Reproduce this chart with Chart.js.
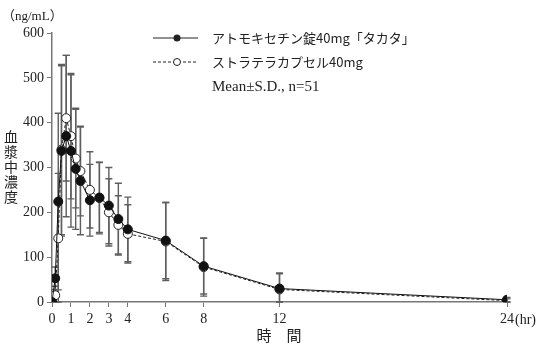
<!DOCTYPE html>
<html>
<head>
<meta charset="utf-8">
<script src="https://cdn.jsdelivr.net/npm/chart.js@4"></script>
<style>
  html, body { margin: 0; padding: 0; background: #fff; }
  #wrap { position: relative; width: 542px; height: 346px; }
</style>
</head>
<body>
<div id="wrap"><canvas id="pkChart" width="542" height="346"></canvas></div>
<script>
// --- data ---
const times = [0, 0.17, 0.33, 0.5, 0.75, 1, 1.25, 1.5, 2, 2.5, 3, 3.5, 4, 6, 8, 12, 24];
const takataMean = [0, 53, 224, 337, 370, 337, 297, 270, 227, 233, 215, 185, 162, 137, 80, 30, 5];
const takataSD   = [0, 25, 197, 190, 180, 170, 135, 120, 80, 78, 85, 80, 72, 85, 62, 35, 5];
const stratteraMean = [0, 15, 142, 340, 410, 370, 320, 292, 250, 232, 200, 172, 152, 135, 78, 28, 3];
const stratteraSD   = [0, 20, 145, 190, 140, 140, 110, 100, 85, 80, 75, 65, 65, 87, 65, 35, 4];
const xTicks = [0, 1, 2, 3, 4, 6, 8, 12, 24];
const yTicks = [0, 100, 200, 300, 400, 500, 600];
const legendLabels = ['アトモキセチン錠40mg「タカタ」', 'ストラテラカプセル40mg'];
const legendNote = 'Mean\u00B1S.D., n=51';

const SERIF = '"Liberation Serif", "Noto Sans CJK JP", serif';
const JP = '"Noto Sans CJK JP", "Liberation Serif", sans-serif';

function toPoints(xs, ys) {
    return xs.map((x, i) => ({ x: x, y: ys[i] }));
}

// error bars through the chart scales, drawn behind the markers
const errorBars = {
    id: 'errorBars',
    beforeDatasetsDraw(chart) {
        const { ctx, scales: { x, y } } = chart;
        const sets = [[takataMean, takataSD], [stratteraMean, stratteraSD]];
        ctx.save();
        ctx.strokeStyle = '#5e5e5e';
        ctx.lineWidth = 1.4;
        sets.forEach(([mean, sd]) => {
            times.forEach((t, i) => {
                if (!sd[i]) return;
                const px = x.getPixelForValue(t);
                const top = y.getPixelForValue(mean[i] + sd[i]);
                const bot = y.getPixelForValue(Math.max(mean[i] - sd[i], 0));
                ctx.beginPath();
                ctx.moveTo(px, top); ctx.lineTo(px, bot);
                ctx.moveTo(px - 3.5, top); ctx.lineTo(px + 3.5, top);
                ctx.moveTo(px - 3.5, bot); ctx.lineTo(px + 3.5, bot);
                ctx.stroke();
            });
        });
        ctx.restore();
    }
};

// legend, units and axis titles
const annotations = {
    id: 'annotations',
    afterDraw(chart) {
        const { ctx, scales: { x } } = chart;
        ctx.save();
        ctx.fillStyle = '#222';
        ctx.textBaseline = 'middle';

        // legend symbols
        ctx.strokeStyle = '#222';
        ctx.lineWidth = 1;
        ctx.beginPath(); ctx.moveTo(153, 38); ctx.lineTo(198, 38); ctx.stroke();
        ctx.beginPath(); ctx.arc(177, 38, 3.5, 0, Math.PI * 2); ctx.fill();
        ctx.setLineDash([3, 2]);
        ctx.beginPath(); ctx.moveTo(153, 62); ctx.lineTo(198, 62); ctx.stroke();
        ctx.setLineDash([]);
        ctx.beginPath(); ctx.arc(177, 62, 3.5, 0, Math.PI * 2);
        ctx.fillStyle = '#fff'; ctx.fill(); ctx.stroke();
        ctx.fillStyle = '#222';

        ctx.textAlign = 'left';
        ctx.font = '13px ' + JP;
        ctx.fillText(legendLabels[0], 212, 38);
        ctx.fillText(legendLabels[1], 212, 62);
        ctx.font = '15px ' + SERIF;
        ctx.fillText(legendNote, 212, 87);

        // units
        ctx.font = '13px ' + SERIF;
        ctx.fillText('（ng/mL）', 2, 17);
        ctx.font = '14px ' + SERIF;
        ctx.fillText('(hr)', x.getPixelForValue(24) + 8, 320);

        // y title, upright stacked characters
        ctx.textAlign = 'center';
        ctx.font = '14px ' + JP;
        '血漿中濃度'.split('').forEach((ch, i) => ctx.fillText(ch, 11, 137 + i * 14.8));

        // x title
        ctx.font = '15px ' + JP;
        ctx.fillText('時　間', 279, 335);
        ctx.restore();
    }
};

new Chart(document.getElementById('pkChart'), {
    type: 'line',
    data: {
        datasets: [
            { label: legendLabels[0], data: toPoints(times, takataMean), borderColor: '#111', borderWidth: 1, pointRadius: 4.5, pointBackgroundColor: '#111', pointBorderColor: '#111', pointBorderWidth: 1, tension: 0 },
            { label: legendLabels[1], data: toPoints(times, stratteraMean), borderColor: '#222', borderWidth: 1, borderDash: [3, 2], pointRadius: 4.5, pointBackgroundColor: '#fff', pointBorderColor: '#222', pointBorderWidth: 1, tension: 0 }
        ]
    },
    options: {
        responsive: false,
        animation: false,
        layout: { padding: { top: 33, right: 35, left: 0, bottom: 0 } },
        plugins: { legend: { display: false }, tooltip: { enabled: false } },
        scales: {
            x: {
                type: 'linear', min: 0, max: 24,
                afterBuildTicks: (s) => { s.ticks = xTicks.map(v => ({ value: v })); },
                afterFit: (s) => { s.height = 44; },
                grid: { drawOnChartArea: false, drawTicks: true, tickLength: 5, color: '#777' },
                border: { color: '#777', width: 1.5 },
                ticks: { color: '#222', font: { family: SERIF, size: 14 }, padding: 4, maxRotation: 0, autoSkip: false }
            },
            y: {
                min: 0, max: 600,
                afterBuildTicks: (s) => { s.ticks = yTicks.map(v => ({ value: v })); },
                afterFit: (s) => { s.width = 52; },
                grid: { drawOnChartArea: false, drawTicks: true, tickLength: 5, color: '#777' },
                border: { color: '#777', width: 1.5 },
                ticks: { color: '#222', font: { family: SERIF, size: 14 }, padding: 3 }
            }
        }
    },
    plugins: [errorBars, annotations]
});
</script>
</body>
</html>
